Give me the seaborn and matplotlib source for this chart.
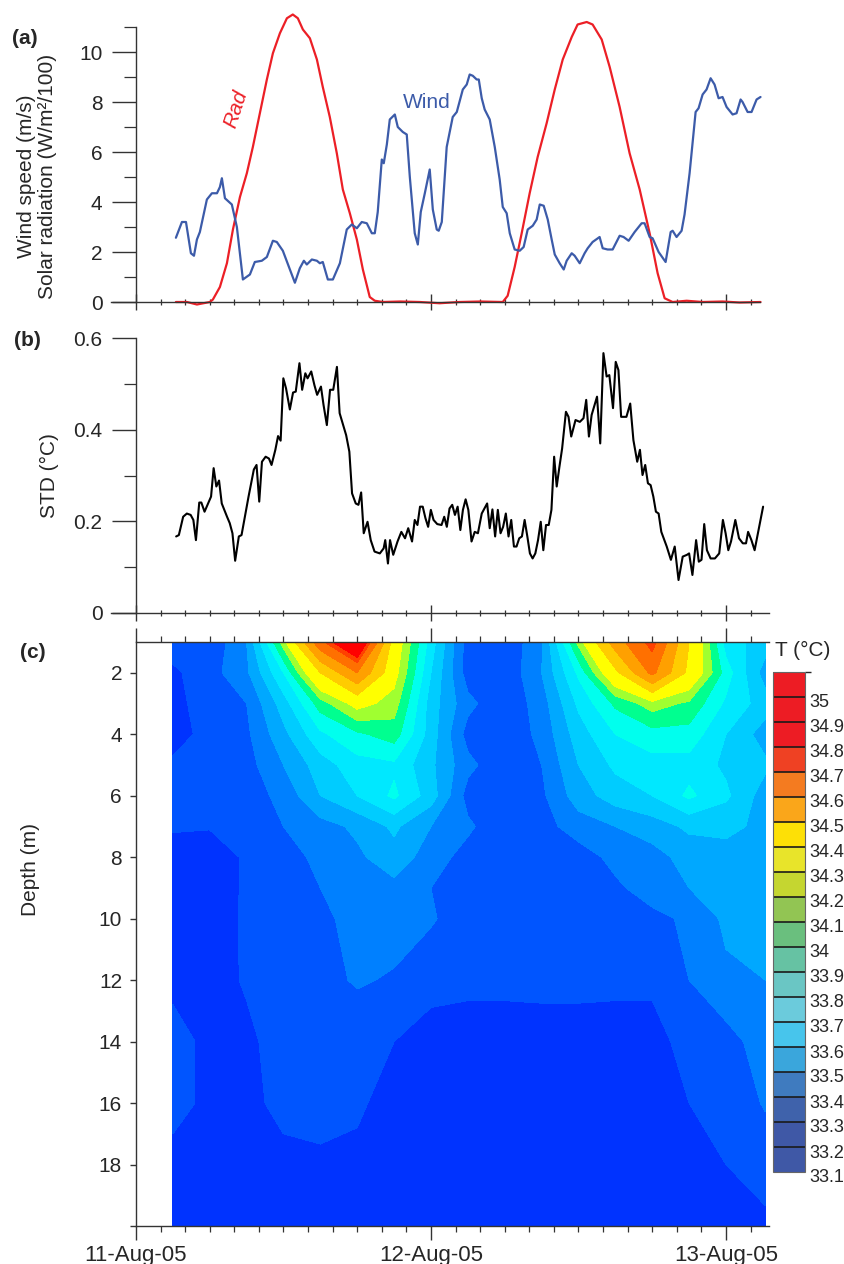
import matplotlib
matplotlib.use("Agg")
import matplotlib.pyplot as plt
import matplotlib.colors as mcolors
import matplotlib.transforms as mtransforms
from matplotlib.ticker import FixedLocator
import numpy as np
import seaborn as sns

sns.set_theme(style="ticks")
plt.rcParams["font.family"] = ["Liberation Sans", "DejaVu Sans"]

# time axis: hours since 11-Aug-05 00:00
date_ticks = [0, 24, 48]
date_labels = ["11-Aug-05", "12-Aug-05", "13-Aug-05"]

# (a) wind speed (m/s)
wind_hours = [3.25, 3.74, 4.07, 4.47, 4.72, 4.96, 5.2, 5.77, 6.18, 6.59, 6.83, 6.99, 7.24, 7.8, 8.21,
              8.7, 9.27, 9.67, 10.24, 10.65, 11.14, 11.46, 11.95, 12.52, 12.93, 13.33, 13.66, 13.9,
              14.31, 14.72, 14.96, 15.2, 15.61, 16.02, 16.59, 17.15, 17.56, 17.97, 18.37, 18.78,
              19.19, 19.43, 19.67, 20.0, 20.16, 20.41, 20.65, 21.06, 21.3, 21.71, 22.03, 22.28,
              22.68, 22.93, 23.17, 23.5, 23.9, 24.15, 24.47, 24.63, 24.88, 25.28, 25.77, 26.1,
              26.59, 26.91, 27.15, 27.4, 27.72, 27.89, 28.13, 28.37, 28.78, 29.19, 29.59, 29.84,
              30.16, 30.41, 30.81, 31.22, 31.54, 31.87, 32.28, 32.6, 32.85, 33.17, 33.5, 33.82,
              34.07, 34.47, 34.8, 35.04, 35.45, 35.69, 36.1, 36.5, 36.75, 37.15, 37.72, 37.97,
              38.37, 38.78, 39.35, 39.67, 40.08, 40.57, 41.14, 41.38, 41.79, 42.03, 42.52, 43.09,
              43.5, 43.66, 43.98, 44.39, 44.63, 45.04, 45.53, 45.77, 46.1, 46.42, 46.75, 47.07,
              47.4, 47.72, 48.05, 48.54, 48.86, 49.19, 49.35, 49.76, 50.08, 50.49, 50.81]
wind_speed = [2.57, 3.2, 3.2, 1.95, 1.85, 2.5, 2.8, 4.1, 4.35, 4.35, 4.6, 4.95, 4.15, 3.9, 3.0,
              0.9, 1.1, 1.6, 1.65, 1.8, 2.45, 2.4, 2.05, 1.3, 0.77, 1.35, 1.65, 1.5,
              1.7, 1.65, 1.55, 1.6, 0.9, 0.9, 1.55, 2.9, 3.1, 2.95, 3.2, 3.15,
              2.75, 2.75, 3.6, 5.7, 5.55, 6.3, 7.3, 7.5, 7.0, 6.8, 6.7, 5.0,
              2.75, 2.3, 3.6, 4.35, 5.3, 3.7, 2.9, 2.85, 3.2, 6.2, 7.4, 7.6,
              8.5, 8.7, 9.1, 9.05, 8.9, 8.9, 8.15, 7.7, 7.3, 6.2, 4.9, 3.8,
              3.55, 2.75, 2.1, 2.05, 2.2, 2.9, 3.05, 3.3, 3.9, 3.85, 3.3, 2.5,
              1.9, 1.55, 1.3, 1.65, 1.95, 1.85, 1.55, 1.95, 2.15, 2.4, 2.6, 2.15,
              2.1, 2.1, 2.65, 2.6, 2.45, 2.8, 3.15, 3.15, 2.6, 2.55, 2.0, 1.6,
              2.8, 2.85, 2.6, 2.85, 3.5, 5.15, 7.6, 7.75, 8.3, 8.5, 8.95, 8.7,
              8.15, 8.2, 7.8, 7.5, 7.55, 8.1, 8.0, 7.6, 7.6, 8.1, 8.2]

# (a) solar radiation (W/m2/100)
rad_hours = [3.25, 4.15, 4.96, 6.02, 6.26, 6.83, 7.4, 7.89, 8.46, 9.02, 9.51, 10.08, 10.65, 11.14,
             11.71, 12.28, 12.76, 13.17, 13.58, 14.15, 14.72, 15.2, 15.77, 16.34, 16.83, 17.4,
             17.97, 18.46, 19.02, 19.43, 20.08, 21.5, 23.09, 24.7, 26.3, 28.0, 29.84, 30.24,
             30.81, 31.38, 32.03, 32.68, 33.41, 34.07, 34.72, 35.45, 35.93, 36.67, 37.15, 37.89,
             38.54, 39.35, 40.16, 40.98, 41.79, 42.44, 43.01, 43.66, 44.8, 46.1, 47.72, 49.1, 50.81]
rad_values = [0.0, 0.0, -0.1, 0.0, 0.1, 0.6, 1.55, 2.9, 4.2, 5.15, 6.2, 7.55, 8.9, 9.95,
              10.75, 11.35, 11.5, 11.35, 10.9, 10.55, 9.7, 8.6, 7.4, 5.95, 4.5, 3.55,
              2.5, 1.3, 0.2, 0.05, 0.0, 0.02, 0.0, -0.05, 0.0, 0.02, 0.0, 0.25,
              1.4, 2.75, 4.35, 5.8, 7.15, 8.5, 9.7, 10.6, 11.1, 11.2, 11.1, 10.5,
              9.4, 7.8, 5.95, 4.5, 2.75, 1.15, 0.15, 0.0, 0.05, 0.0, 0.02, -0.02, 0.0]

# (b) standard deviation of temperature (deg C)
std_hours = [3.27, 3.49, 3.84, 4.14, 4.45, 4.67, 4.88, 5.15, 5.32, 5.58, 6.11, 6.32, 6.54, 6.76,
             6.98, 7.41, 7.63, 7.85, 8.07, 8.37, 8.59, 9.16, 9.59, 9.81, 10.03, 10.25, 10.55,
             10.82, 11.03, 11.34, 11.56, 11.77, 11.99, 12.21, 12.52, 12.78, 13.0, 13.3, 13.52,
             13.78, 13.96, 14.26, 14.52, 14.74, 15.05, 15.26, 15.53, 15.79, 16.05, 16.35, 16.57,
             17.1, 17.36, 17.58, 17.88, 18.1, 18.32, 18.53, 18.84, 19.1, 19.41, 19.84, 20.15,
             20.28, 20.5, 20.67, 20.93, 21.28, 21.59, 21.89, 22.15, 22.46, 22.68, 22.9, 23.11,
             23.33, 23.55, 23.77, 23.99, 24.21, 24.51, 24.86, 25.08, 25.29, 25.51, 25.73, 25.95,
             26.17, 26.39, 26.6, 26.82, 27.04, 27.3, 27.56, 27.82, 28.13, 28.57, 28.78, 29.0,
             29.22, 29.44, 29.66, 29.87, 30.09, 30.31, 30.53, 30.75, 30.96, 31.18, 31.4, 31.62,
             31.84, 32.05, 32.27, 32.49, 32.71, 32.93, 33.14, 33.36, 33.58, 33.8, 34.02, 34.23,
             34.45, 34.67, 34.98, 35.19, 35.41, 35.76, 36.11, 36.41, 36.63, 36.85, 37.07, 37.51,
             37.77, 38.03, 38.29, 38.51, 38.81, 39.03, 39.25, 39.47, 39.9, 40.21, 40.47, 40.78,
             41.0, 41.21, 41.43, 41.65, 41.87, 42.09, 42.3, 42.52, 42.74, 43.18, 43.52, 43.83,
             44.14, 44.48, 44.83, 45.0, 45.27, 45.57, 45.79, 46.01, 46.23, 46.45, 46.75, 47.1,
             47.45, 47.75, 47.97, 48.19, 48.41, 48.76, 49.06, 49.37, 49.63, 49.8, 50.07, 50.33,
             50.68, 51.02]
std_values = [0.167, 0.170, 0.210, 0.217, 0.214, 0.203, 0.159, 0.241, 0.241, 0.221, 0.254, 0.316, 0.276, 0.289,
              0.239, 0.210, 0.196, 0.174, 0.114, 0.167, 0.170, 0.254, 0.313, 0.323, 0.243, 0.330, 0.341,
              0.337, 0.323, 0.356, 0.386, 0.376, 0.512, 0.490, 0.444, 0.481, 0.483, 0.545, 0.487,
              0.523, 0.512, 0.527, 0.497, 0.476, 0.494, 0.454, 0.410, 0.487, 0.487, 0.537, 0.436,
              0.388, 0.352, 0.261, 0.239, 0.236, 0.263, 0.174, 0.199, 0.159, 0.134, 0.130, 0.141,
              0.159, 0.108, 0.159, 0.127, 0.156, 0.177, 0.163, 0.185, 0.156, 0.203, 0.192, 0.232,
              0.232, 0.207, 0.188, 0.225, 0.203, 0.194, 0.192, 0.210, 0.188, 0.228, 0.236, 0.214,
              0.232, 0.181, 0.225, 0.248, 0.225, 0.156, 0.177, 0.174, 0.217, 0.239, 0.185, 0.226,
              0.167, 0.225, 0.174, 0.188, 0.217, 0.167, 0.203, 0.145, 0.145, 0.163, 0.167, 0.203,
              0.167, 0.130, 0.119, 0.130, 0.159, 0.199, 0.137, 0.192, 0.192, 0.225, 0.341, 0.276,
              0.319, 0.359, 0.439, 0.428, 0.385, 0.421, 0.417, 0.425, 0.465, 0.385, 0.432, 0.472,
              0.370, 0.567, 0.516, 0.519, 0.447, 0.548, 0.530, 0.428, 0.428, 0.457, 0.377, 0.330,
              0.356, 0.301, 0.323, 0.283, 0.279, 0.254, 0.221, 0.217, 0.177, 0.145, 0.116, 0.145,
              0.072, 0.123, 0.127, 0.130, 0.083, 0.159, 0.112, 0.116, 0.194, 0.137, 0.119, 0.119,
              0.130, 0.203, 0.174, 0.137, 0.156, 0.203, 0.163, 0.152, 0.152, 0.177, 0.159, 0.137,
              0.185, 0.232]

# (c) temperature section (deg C): rows = depths, columns = grid_hours
grid_hours = [3, 6, 9, 12, 15, 18, 21, 24, 27, 30, 33, 36, 39, 42, 45, 48, 51.2]
depths = [1, 2, 3, 4, 5, 6, 7, 8, 9, 10, 12, 14, 16, 18, 20]
t_1m = [33.25, 33.22, 33.40, 33.95, 34.75, 35.20, 34.10, 33.65, 33.25, 33.22, 33.38, 33.93, 34.50, 34.87, 34.20, 33.65, 33.55]
t_2m = [33.18, 33.26, 33.38, 33.70, 34.20, 34.60, 34.05, 33.60, 33.25, 33.22, 33.40, 33.72, 34.15, 34.65, 34.15, 33.75, 33.45]
t_3m = [33.16, 33.26, 33.30, 33.55, 33.85, 34.05, 33.95, 33.55, 33.33, 33.22, 33.35, 33.62, 33.82, 33.95, 33.88, 33.68, 33.55]
t_4m = [33.15, 33.24, 33.28, 33.47, 33.68, 33.78, 33.85, 33.55, 33.26, 33.22, 33.33, 33.55, 33.70, 33.76, 33.76, 33.60, 33.45]
t_5m = [33.22, 33.24, 33.26, 33.40, 33.55, 33.66, 33.68, 33.52, 33.33, 33.22, 33.30, 33.50, 33.62, 33.66, 33.66, 33.58, 33.52]
t_6m = [33.25, 33.24, 33.25, 33.33, 33.50, 33.60, 33.72, 33.55, 33.26, 33.22, 33.28, 33.45, 33.55, 33.60, 33.72, 33.62, 33.45]
t_7m = [33.22, 33.21, 33.25, 33.30, 33.36, 33.42, 33.52, 33.40, 33.32, 33.22, 33.26, 33.35, 33.40, 33.45, 33.52, 33.52, 33.48]
t_8m = [33.12, 33.12, 33.22, 33.25, 33.33, 33.38, 33.46, 33.35, 33.26, 33.22, 33.22, 33.25, 33.33, 33.36, 33.44, 33.47, 33.48]
t_9m = [33.12, 33.12, 33.22, 33.24, 33.30, 33.35, 33.37, 33.30, 33.25, 33.22, 33.22, 33.24, 33.28, 33.35, 33.40, 33.45, 33.47]
t_10m = [33.14, 33.13, 33.22, 33.24, 33.28, 33.33, 33.34, 33.31, 33.25, 33.22, 33.22, 33.23, 33.25, 33.27, 33.32, 33.42, 33.45]
t_12m = [33.18, 33.16, 33.21, 33.24, 33.27, 33.31, 33.29, 33.24, 33.23, 33.23, 33.23, 33.23, 33.22, 33.21, 33.30, 33.38, 33.40]
t_14m = [33.23, 33.18, 33.18, 33.24, 33.25, 33.24, 33.20, 33.15, 33.14, 33.14, 33.15, 33.15, 33.16, 33.18, 33.22, 33.26, 33.35]
t_16m = [33.23, 33.18, 33.17, 33.23, 33.24, 33.22, 33.15, 33.12, 33.12, 33.12, 33.13, 33.13, 33.14, 33.16, 33.20, 33.23, 33.31]
t_18m = [33.17, 33.15, 33.15, 33.17, 33.18, 33.17, 33.13, 33.11, 33.11, 33.11, 33.11, 33.11, 33.11, 33.12, 33.15, 33.20, 33.24]
t_20m = [33.10, 33.10, 33.10, 33.10, 33.10, 33.10, 33.10, 33.10, 33.10, 33.10, 33.10, 33.10, 33.10, 33.10, 33.12, 33.14, 33.18]

# filled-contour shading used in the section
map_levels = [33.0, 33.2, 33.3, 33.4, 33.5, 33.6, 33.7, 33.8, 33.9, 34.0, 34.2, 34.4, 34.6, 34.8, 34.9, 35.3]
map_colors = ["#0033ff", "#0055ff", "#0080ff", "#00a8ff", "#00ccff", "#00e8ff", "#00ffee", "#00ff90",
              "#a0ff30", "#ffff00", "#ffcc00", "#ffa000", "#ff7000", "#ff4000", "#ff0000"]

# legend colour scale
legend_levels = [33.1, 33.2, 33.3, 33.4, 33.5, 33.6, 33.7, 33.8, 33.9, 34.0, 34.1,
                 34.2, 34.3, 34.4, 34.5, 34.6, 34.7, 34.8, 34.9, 35.0, 35.1]
legend_colors = ["#3f58a6", "#3f58a6", "#3f62ab", "#3f7bbf", "#3aa6dc", "#47c5ec", "#6bcbdc",
                 "#6ac6c4", "#66c2a3", "#6abf7e", "#92c553", "#c5d630", "#e8e42a", "#fde006",
                 "#faa61a", "#f47b20", "#ef4123", "#ed1c24", "#ed1c24", "#ed1c24"]

RAD_COLOR = "#ec1f26"
WIND_COLOR = "#3c5ba9"
AX_COLOR = "#333333"

W, H = 845, 1264
fig = plt.figure(figsize=(W / 100, H / 100), dpi=100)
left, width = 111 / W, 658 / W
ax_a = fig.add_axes([left, 1 - 307 / H, width, 295 / H])
ax_b = fig.add_axes([left, 1 - 613 / H, width, 275 / H])
ax_c = fig.add_axes([left, 1 - 1226 / H, width, 584 / H])

minor_hours = [h for h in range(2, 51, 2) if h % 24]


def style_time_axis(ax, xmax_line):
    ax.set_xlim(-2.03, 51.5)
    ax.xaxis.set_major_locator(FixedLocator(date_ticks))
    ax.xaxis.set_minor_locator(FixedLocator(minor_hours))
    ax.spines["left"].set_position(("data", 0))
    ax.spines["bottom"].set_bounds(-2.03, xmax_line)
    for side in ("top", "right"):
        ax.spines[side].set_visible(False)
    for side in ("left", "bottom"):
        ax.spines[side].set_color(AX_COLOR)
        ax.spines[side].set_linewidth(1.0)
    ax.tick_params(axis="x", which="major", direction="inout", length=11, width=1.0,
                   color=AX_COLOR, labelbottom=False)
    ax.tick_params(axis="x", which="minor", direction="inout", length=5, width=0.9, color=AX_COLOR)
    ax.tick_params(axis="y", which="major", direction="out", length=17, width=1.0,
                   color=AX_COLOR, labelsize=15, pad=7)
    ax.tick_params(axis="y", which="minor", direction="out", length=8.5, width=0.9, color=AX_COLOR)


# (a) wind and radiation
sns.lineplot(x=rad_hours, y=rad_values, ax=ax_a, color=RAD_COLOR, linewidth=1.6, sort=False)
sns.lineplot(x=wind_hours, y=wind_speed, ax=ax_a, color=WIND_COLOR, linewidth=1.6, sort=False)
ax_a.set_ylim(-0.2, 11.6)
ax_a.yaxis.set_major_locator(FixedLocator([0, 2, 4, 6, 8, 10]))
ax_a.yaxis.set_minor_locator(FixedLocator([1, 3, 5, 7, 9, 11]))
style_time_axis(ax_a, 50.8)
ax_a.spines["bottom"].set_position(("data", 0))
ax_a.spines["left"].set_bounds(0, 11)
ax_a.set_xlabel("")
ax_a.set_ylabel("")
ax_a.text(8.13, 7.72, "Rad", rotation=72, style="italic", color=RAD_COLOR, fontsize=15,
          ha="center", va="center")
ax_a.text(23.7, 8.0, "Wind", color=WIND_COLOR, fontsize=15, ha="center", va="center")

# (b) STD
sns.lineplot(x=std_hours, y=std_values, ax=ax_b, color="black", linewidth=1.5, sort=False)
ax_b.set_ylim(0, 0.6)
ax_b.yaxis.set_major_locator(FixedLocator([0, 0.2, 0.4, 0.6]))
ax_b.yaxis.set_minor_locator(FixedLocator([0.1, 0.3, 0.5]))
ax_b.set_yticklabels(["0", "0.2", "0.4", "0.6"])
style_time_axis(ax_b, 51.5)
ax_b.set_xlabel("")
ax_b.set_ylabel("")

# (c) temperature section
temperature = np.array([t_1m, t_2m, t_3m, t_4m, t_5m, t_6m, t_7m, t_8m, t_9m, t_10m,
                        t_12m, t_14m, t_16m, t_18m, t_20m])
ax_c.contourf(grid_hours, depths, temperature, levels=map_levels, colors=map_colors)
ax_c.set_xlim(-2.03, 51.5)
ax_c.set_ylim(20, 1)
ax_c.xaxis.set_major_locator(FixedLocator(date_ticks))
ax_c.xaxis.set_minor_locator(FixedLocator(minor_hours))
ax_c.set_xticklabels(date_labels)
ax_c.set_yticks(list(range(2, 21, 2)))
ax_c.set_yticklabels([str(d) for d in range(2, 19, 2)] + [""])
ax_c.spines["left"].set_position(("data", 0))
ax_c.spines["right"].set_visible(False)
for side in ("top", "bottom"):
    ax_c.spines[side].set_bounds(0, 51.5)
for side in ("left", "top", "bottom"):
    ax_c.spines[side].set_color(AX_COLOR)
    ax_c.spines[side].set_linewidth(1.0)
ax_c.tick_params(axis="x", which="major", direction="out", length=10, width=1.0, color=AX_COLOR,
                 top=True, labelsize=16, pad=4)
ax_c.tick_params(axis="x", which="minor", direction="out", length=4, width=0.9, color=AX_COLOR,
                 top=True)
ax_c.tick_params(axis="y", which="major", direction="out", length=4, width=1.0, color=AX_COLOR,
                 labelsize=15, pad=6)

cax = fig.add_axes([773 / W, 1 - 1172 / H, 32 / W, 500 / H])
legend_norm = mcolors.BoundaryNorm(legend_levels, len(legend_colors))
legend_cmap = mcolors.ListedColormap(legend_colors)
cb = fig.colorbar(plt.cm.ScalarMappable(norm=legend_norm, cmap=legend_cmap), cax=cax,
                  ticks=legend_levels[:-1], drawedges=True)
cb.set_ticklabels([f"{v:g}" for v in legend_levels[:-1]])
cb.ax.tick_params(length=0, labelsize=13, pad=3)
cb.dividers.set_color("#1a1a1a")
cb.dividers.set_linewidth(1.2)
cb.outline.set_edgecolor("#666666")
cb.outline.set_linewidth(0.8)
shift = mtransforms.ScaledTranslation(0, -0.04, fig.dpi_scale_trans)
for lbl in cb.ax.get_yticklabels():
    lbl.set_transform(lbl.get_transform() + shift)

# labels
fig.text(25 / W, 1 - 39 / H, "(a)", fontsize=15, fontweight="bold", ha="center", va="center")
fig.text(27 / W, 1 - 340 / H, "(b)", fontsize=15, fontweight="bold", ha="center", va="center")
fig.text(33 / W, 1 - 652 / H, "(c)", fontsize=15, fontweight="bold", ha="center", va="center")
fig.text(37 / W, 1 - 176 / H, "Wind speed (m/s)\nSolar radiation (W/m²/100)", rotation=90,
         fontsize=15, ha="center", va="center", multialignment="center", linespacing=1.1)
fig.text(49 / W, 1 - 476 / H, "STD (°C)", rotation=90, fontsize=15, ha="center", va="center")
fig.text(31 / W, 1 - 870 / H, "Depth (m)", rotation=90, fontsize=15, ha="center", va="center")
fig.text(803 / W, 1 - 650 / H, "T (°C)", fontsize=15, ha="center", va="center")

fig.savefig("out.png", dpi=100)
